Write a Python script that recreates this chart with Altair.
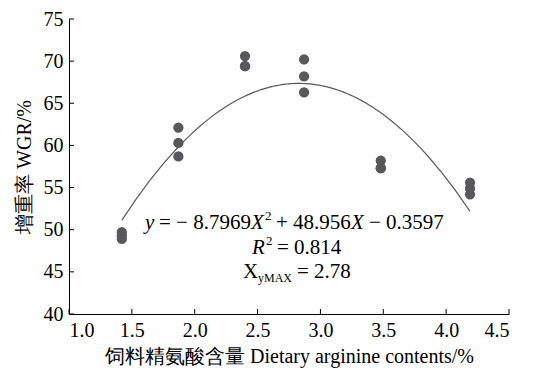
import altair as alt
import pandas as pd

# Data
arginine = [1.42, 1.42, 1.42, 1.87, 1.87, 1.87, 2.40, 2.40, 2.40,
            2.87, 2.87, 2.87, 3.48, 3.48, 3.48, 4.19, 4.19, 4.19]
wgr = [49.7, 49.3, 48.9, 62.1, 60.3, 58.7, 70.6, 69.4, 69.4,
       70.2, 68.2, 66.3, 58.2, 57.3, 57.3, 55.6, 54.9, 54.2]
x_ticks = [1.0, 1.5, 2.0, 2.5, 3.0, 3.5, 4.0, 4.5]
y_ticks = [40, 45, 50, 55, 60, 65, 70, 75]

df = pd.DataFrame({"x": arginine, "y": wgr})
xt = pd.DataFrame({"v": x_ticks})
yt = pd.DataFrame({"v": y_ticks})

W, H = 440, 295
SERIF = "Liberation Serif"
GREY = "#58585a"

xs = alt.Scale(domain=[1.0, 4.5], nice=False, zero=False)
ys = alt.Scale(domain=[40, 75], nice=False, zero=False)

x_axis = alt.Axis(values=x_ticks, format=".1f", tickSize=0, grid=False,
                  domainColor="black", labelFont=SERIF, labelFontSize=20,
                  labelColor="black", labelPadding=6,
                  title="饲料精氨酸含量 Dietary arginine contents/%",
                  titleFont=SERIF, titleFontSize=20, titleFontWeight="normal",
                  titleColor="black", titlePadding=6)
y_axis = alt.Axis(values=y_ticks, format="d", tickSize=0, grid=False,
                  domainColor="black", labelFont=SERIF, labelFontSize=20,
                  labelColor="black", labelPadding=6,
                  title="增重率 WGR/%", titleFont=SERIF, titleFontSize=20,
                  titleFontWeight="normal", titleColor="black", titlePadding=9)

points = alt.Chart(df).mark_circle(size=105, color=GREY, opacity=1).encode(
    x=alt.X("x:Q", scale=xs, axis=x_axis),
    y=alt.Y("y:Q", scale=ys, axis=y_axis),
)

curve = alt.Chart(df).transform_regression(
    "x", "y", method="poly", order=2
).mark_line(color=GREY, strokeWidth=1.2).encode(
    x=alt.X("x:Q", scale=xs),
    y=alt.Y("y:Q", scale=ys),
)

xtick = alt.Chart(xt).mark_rule(color="black", strokeWidth=1).encode(
    x=alt.X("v:Q", scale=xs),
    y=alt.value(H), y2=alt.value(H - 5),
)
ytick = alt.Chart(yt).mark_rule(color="black", strokeWidth=1).encode(
    y=alt.Y("v:Q", scale=ys),
    x=alt.value(0), x2=alt.value(5),
)

def txt(s, x, y, size=21, style="normal"):
    return alt.Chart(pd.DataFrame({"t": [s]})).mark_text(
        font=SERIF, fontSize=size, fontStyle=style, color="black",
        align="left", baseline="alphabetic"
    ).encode(text="t:N", x=alt.value(x), y=alt.value(y))

eq = [
    txt("y", 76, 210, style="italic"),
    txt("= − 8.7969", 90, 210),
    txt("X", 182, 210, style="italic"),
    txt("2", 196, 201, size=13),
    txt("+ 48.956", 207, 210),
    txt("X", 282, 210, style="italic"),
    txt("− 0.3597", 300, 210),
    txt("R", 183, 235, style="italic"),
    txt("2", 197, 226, size=13),
    txt("= 0.814", 208, 235),
    txt("X", 174, 259),
    txt("yMAX", 189, 263, size=12),
    txt("= 2.78", 228, 259),
]

chart = alt.layer(points, curve, xtick, ytick, *eq).properties(
    width=W, height=H,
    autosize=alt.AutoSizeParams(type="none"),
    padding={"left": 61, "top": 11, "right": 22, "bottom": 56},
).configure_view(stroke=None).configure_axis(domainWidth=1)

chart.save("out.html", embed_options={"renderer": "svg", "actions": False})
